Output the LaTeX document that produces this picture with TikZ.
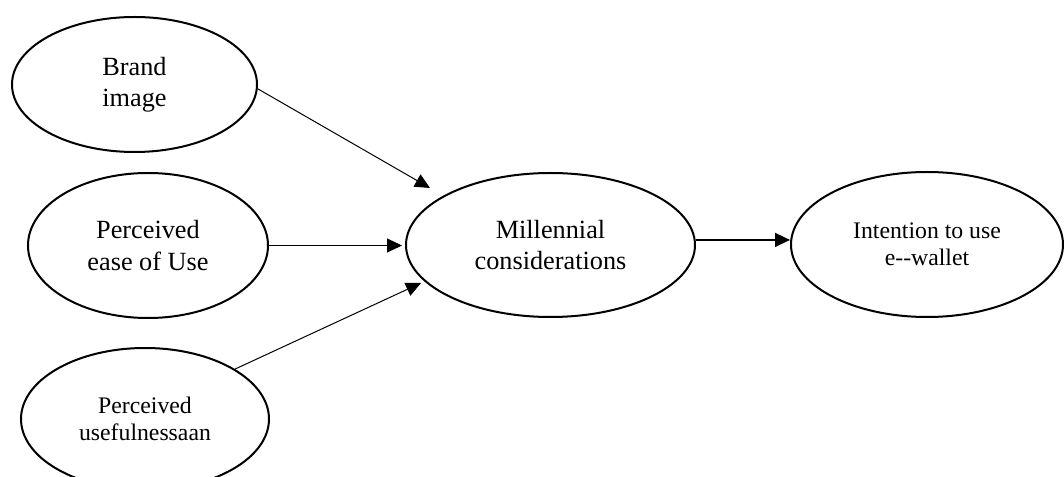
\documentclass[tikz,border=0pt]{standalone}
\usepackage{fontspec}
\setmainfont{Liberation Serif}
\usetikzlibrary{arrows.meta,shapes.geometric}
\begin{document}
\begin{tikzpicture}[x=0.75pt,y=-0.75pt,
  oval/.style={draw,ellipse,line width=1.5pt,inner sep=0pt,align=center},
  bigtext/.style={font=\fontsize{19.7pt}{23.3pt}\selectfont},
  smalltext/.style={font=\fontsize{17.8pt}{20.6pt}\selectfont},
  conn/.style={line width=0.75pt,-{Triangle[length=11.25pt,width=10.5pt]}},
  thickconn/.style={line width=1.3pt,-{Triangle[length=11.25pt,width=10.5pt]}}]
\useasboundingbox (0,0) rectangle (1064,477);
\node[oval,bigtext,minimum width=245*0.75pt,minimum height=135*0.75pt] (brand) at (134.5,84.5) {Brand\\image};
\node[oval,bigtext,minimum width=240*0.75pt,minimum height=145*0.75pt] (ease) at (148,245.5) {Perceived\\ease of Use};
\node[oval,smalltext,minimum width=248*0.75pt,minimum height=142*0.75pt] (useful) at (145,419) {Perceived\\usefulnessaan};
\node[oval,bigtext,minimum width=289*0.75pt,minimum height=144*0.75pt] (mill) at (550.5,245) {Millennial\\considerations};
\node[oval,smalltext,minimum width=272*0.75pt,minimum height=145*0.75pt] (intent) at (927,244.5) {Intention to use\\e-{}-wallet};
\coordinate (t1) at (430,188);
\coordinate (t2) at (402,245.5);
\coordinate (t3) at (421,283);
\draw[conn] (brand.-2) -- (t1);
\draw[conn] (ease.east) -- (t2);
\draw[conn] (useful.29) -- (t3);
\draw[thickconn] (mill.2) -- (mill.2 -| intent.west);
\end{tikzpicture}
\end{document}
